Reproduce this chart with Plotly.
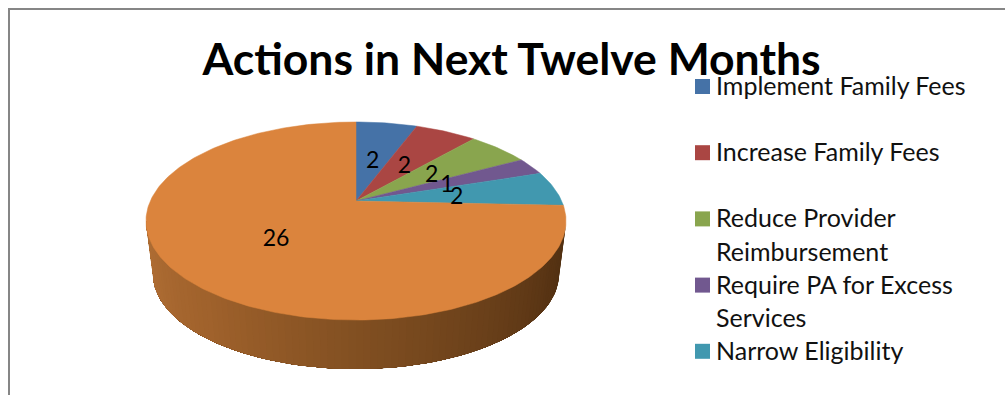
import numpy as np
import plotly.graph_objects as go

# Chart data
title = "Actions in Next Twelve Months"
categories = [
    "Implement Family Fees",
    "Increase Family Fees",
    "Reduce Provider Reimbursement",
    "Require PA for Excess Services",
    "Narrow Eligibility",
    "Other",
]
values = [2, 2, 2, 1, 2, 26]
colors = ["#4572A7", "#AA4643", "#89A54E", "#71588F", "#4198AF", "#DB843D"]
legend_lines = [
    ["Implement Family Fees", ""],
    ["Increase Family Fees", ""],
    ["Reduce Provider", "Reimbursement"],
    ["Require PA for Excess", "Services"],
    ["Narrow Eligibility"],
]

FONT = "Lato"
W, H = 1005, 395

# Perspective projection of the unit disc on to the page
APEX_X, APEX_Y = 356.0, 201.0
SCALE_X, SCALE_Y, TILT = 205.7, 95.0, 0.202


def project(radius, angle):
    """Angle runs clockwise from twelve o'clock, in radians."""
    px = radius * np.sin(angle)
    py = radius * np.cos(angle)
    w = 1 + TILT * py
    return APEX_X + SCALE_X * px / w, APEX_Y - SCALE_Y * py / w


fig = go.Figure()

# Outer side wall of the disc: overlapping shaded strips painted right to left
wall_stops_t = [0.0, 0.12, 0.5, 0.75, 1.0]
wall_stops_rgb = np.array(
    [[80, 48, 18], [88, 52, 20], [130, 80, 34], [160, 98, 44], [178, 112, 54]], dtype=float
)
n_strips = 90
edges = np.linspace(0, np.pi, n_strips + 1)
for i in range(n_strips):
    t = np.linspace(edges[i], np.pi, 2 + (n_strips - i))
    xt, yt = 356 + 210 * np.cos(t), 221 + 99 * np.sin(t)
    xb, yb = 356 + 203 * np.cos(t), 274 + 95 * np.sin(t)
    frac = (i + 0.5) / n_strips
    rgb = [np.interp(frac, wall_stops_t, wall_stops_rgb[:, c]) for c in range(3)]
    col = "rgb(%d,%d,%d)" % tuple(rgb)
    fig.add_trace(go.Scatter(
        x=np.r_[xt, xb[::-1]], y=np.r_[yt, yb[::-1]],
        mode="lines", fill="toself", fillcolor=col,
        line=dict(width=0),
        hoverinfo="skip", showlegend=False,
    ))

# Top face: one wedge per category, swept from the values
total = sum(values)
boundaries = np.cumsum([0] + values) / total * 2 * np.pi
for name, col, a0, a1 in zip(categories, colors, boundaries[:-1], boundaries[1:]):
    arc = np.linspace(a0, a1, max(int((a1 - a0) * 60), 8))
    ax, ay = project(1.0, arc)
    fig.add_trace(go.Scatter(
        x=np.r_[APEX_X, ax, APEX_X], y=np.r_[APEX_Y, ay, APEX_Y],
        mode="lines", fill="toself", fillcolor=col,
        line=dict(color=col, width=0.5),
        name=name, showlegend=False, hoverinfo="name",
    ))

# Value labels at half radius along each wedge's mid-angle
mids = (boundaries[:-1] + boundaries[1:]) / 2
lx, ly = project(0.5, mids)
fig.add_trace(go.Scatter(
    x=lx, y=ly + 3.5, mode="text", text=[str(v) for v in values],
    textposition="middle center",
    textfont=dict(family=FONT, size=23, color="#000000"),
    hoverinfo="skip", showlegend=False,
))

# Legend: square key plus one text row per line
ROW = 33.1
first_row_y = 86.5
shapes = [dict(
    type="rect", xref="x", yref="y", x0=9, y0=9, x1=W + 10, y1=H + 10,
    line=dict(color="#868686", width=2), fillcolor="rgba(0,0,0,0)", layer="below",
)]
annotations = []
row = 0
for lines, col in zip(legend_lines, colors):
    y_key = first_row_y + row * ROW
    shapes.append(dict(
        type="rect", xref="x", yref="y", x0=695, x1=710, y0=y_key - 7.5, y1=y_key + 7.5,
        fillcolor=col, line=dict(width=0), layer="above",
    ))
    for text in lines:
        if text:
            annotations.append(dict(
                x=713.5, y=first_row_y - 1.5 + row * ROW, xref="x", yref="y",
                text=text, showarrow=False, xanchor="left", yanchor="middle",
                font=dict(family=FONT, size=25, color="#111111"),
            ))
        row += 1

fig.update_layout(
    width=W, height=H,
    margin=dict(l=0, r=0, t=0, b=0),
    paper_bgcolor="#FFFFFF", plot_bgcolor="#FFFFFF",
    title=dict(
        text="<b>%s</b>" % title, x=511.5 / W, y=1 - 59.5 / H,
        xanchor="center", yanchor="middle",
        font=dict(family=FONT, size=44.5, color="#000000"),
    ),
    xaxis=dict(range=[0, W], visible=False, fixedrange=True),
    yaxis=dict(range=[H, 0], visible=False, fixedrange=True),
    shapes=shapes, annotations=annotations,
    showlegend=False,
)

fig.write_html("out.html", config=dict(displayModeBar=False))
